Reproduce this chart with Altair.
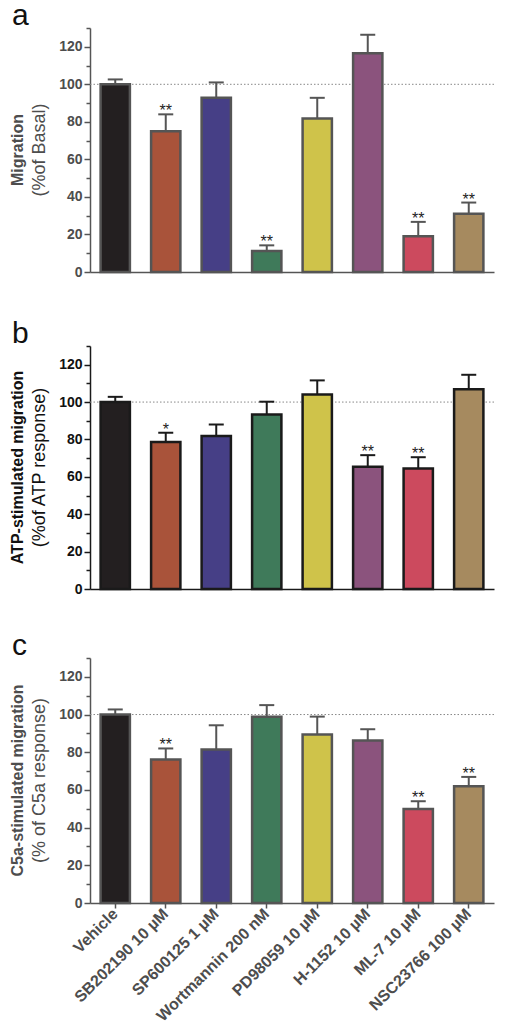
import altair as alt
import pandas as pd

categories = ["Vehicle", "SB202190 10 µM", "SP600125 1 µM", "Wortmannin 200 nM",
              "PD98059 10 µM", "H-1152 10 µM", "ML-7 10 µM", "NSC23766 100 µM"]
colors = ["#231f20", "#a9533a", "#463f86", "#3f7a5a", "#cfc34a", "#8b537d", "#cc4a5e", "#a68a5f"]

a_mean = [100, 75, 92.8, 11.2, 81.8, 116.5, 19, 31.1]
a_sem = [2.6, 9, 8.2, 3, 11, 9.9, 7.7, 5.9]
a_sig = ["", "**", "", "**", "", "", "**", "**"]

b_mean = [100, 78.6, 81.8, 93.4, 104.1, 65.4, 64.5, 106.8]
b_sem = [2.8, 5, 6.2, 6.8, 7.5, 6.2, 6, 7.8]
b_sig = ["", "*", "", "", "", "**", "**", ""]

c_mean = [100, 76.1, 81.4, 98.8, 89.4, 86.2, 49.9, 61.9]
c_sem = [2.7, 5.9, 12.9, 6.2, 9.5, 6, 4.1, 5]
c_sig = ["", "**", "", "", "", "", "**", "**"]

y_ticks = list(range(0, 131, 10))
FONT = "Liberation Sans"
W = 404


def panel(mean, sem, sig, letter, title1, title2, stroke, textcol, height, show_x):
    df = pd.DataFrame({
        "cat": categories,
        "mean": mean,
        "upper": [m + s for m, s in zip(mean, sem)],
        "sig": sig,
    })
    xscale = alt.Scale(domain=categories, paddingInner=0.42, paddingOuter=0.21)
    if show_x:
        xaxis = alt.Axis(title=None, labelAngle=-45, labelAlign="right", labelBaseline="middle",
                         labelFontSize=16, labelFontWeight="bold", labelColor=textcol,
                         labelFont=FONT, tickSize=5, tickColor=stroke, tickWidth=1.5,
                         domainColor=stroke, domainWidth=1.5, labelPadding=3)
    else:
        xaxis = alt.Axis(title=None, labels=False, ticks=False, domainColor=stroke, domainWidth=1.5)
    yscale = alt.Scale(domain=[0, 130], nice=False, zero=True)
    yaxis = alt.Axis(title=None, values=y_ticks, grid=False,
                     labelExpr="datum.value % 20 === 0 ? datum.label : ''",
                     labelFontSize=14, labelFontWeight="bold", labelColor=textcol, labelFont=FONT,
                     labelPadding=2, tickColor=stroke, tickWidth=1.5,
                     tickSize={"condition": {"test": "datum.value % 20 === 0", "value": 6}, "value": 4},
                     domainColor=stroke, domainWidth=1.5)
    x = alt.X("cat:N", sort=categories, scale=xscale, axis=xaxis)
    base = alt.Chart(df)
    ref = alt.Chart(pd.DataFrame({"ref": [100]})).mark_rule(
        color="#888888", strokeDash=[1.5, 2], strokeWidth=1
    ).encode(y=alt.Y("ref:Q", scale=yscale, axis=yaxis))
    rule = base.mark_rule(color=stroke, strokeWidth=2).encode(
        x=x, y=alt.Y("mean:Q", scale=yscale, axis=yaxis), y2="upper:Q")
    cap = base.mark_tick(color=stroke, thickness=2, size=15, opacity=1).encode(
        x=x, y=alt.Y("upper:Q", scale=yscale, axis=yaxis))
    bars = base.mark_bar(stroke=stroke, strokeWidth=2.5).encode(
        x=x, y=alt.Y("mean:Q", scale=yscale, axis=yaxis),
        color=alt.Color("cat:N", scale=alt.Scale(domain=categories, range=colors), legend=None))
    stars = base.mark_text(fontSize=16, baseline="alphabetic", dy=2, color="#222222", font=FONT).encode(
        x=x, y=alt.Y("upper:Q", scale=yscale, axis=yaxis), text="sig:N")
    lab = pd.DataFrame({"t": [letter], "t1": [title1], "t2": [title2]})
    let = alt.Chart(lab).mark_text(fontSize=30, align="left", baseline="alphabetic",
                                   color="#111111", font=FONT).encode(
        text="t:N", x=alt.value(-78), y=alt.value(-3))
    tt1 = alt.Chart(lab).mark_text(fontSize=16, fontWeight="bold", angle=270, align="center",
                                   baseline="middle", color=textcol, font=FONT).encode(
        text="t1:N", x=alt.value(-72), y=alt.value(height / 2))
    tt2 = alt.Chart(lab).mark_text(fontSize=18, angle=270, align="center",
                                   baseline="middle", color=textcol, font=FONT).encode(
        text="t2:N", x=alt.value(-50), y=alt.value(height / 2))
    return alt.layer(ref, rule, cap, bars, stars, let, tt1, tt2).properties(width=W, height=height)


pa = panel(a_mean, a_sem, a_sig, "a", "Migration", "(%of Basal)", "#555555", "#4d4d4d", 244, False)
pb = panel(b_mean, b_sem, b_sig, "b", "ATP-stimulated migration", "(%of ATP response)", "#1a1a1a", "#111111", 243, False)
pc = panel(c_mean, c_sem, c_sig, "c", "C5a-stimulated migration", "(% of C5a response)", "#555555", "#4d4d4d", 245, True)

chart = alt.vconcat(
    alt.vconcat(pa, pb, spacing=40),
    pc, spacing=35
).properties(
    padding={"left": 2, "top": -7, "right": 5, "bottom": 2}
).configure_view(stroke=None)

chart.save("out.html", embed_options={"renderer": "svg", "actions": False})
